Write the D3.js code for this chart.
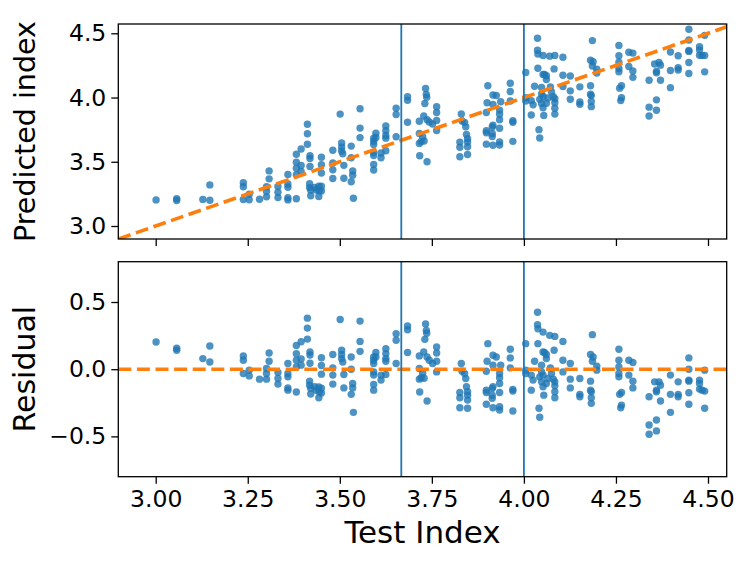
<!DOCTYPE html>
<html>
<head>
<meta charset="utf-8">
<script src="https://cdn.jsdelivr.net/npm/d3@7"></script>
<style>
  body { margin: 0; background: #fff; }
  svg { display: block; }
  text { font-family: "DejaVu Sans", sans-serif; fill: #000; }
</style>
</head>
<body>
<svg id="chart"></svg>
<script>
var width = 747;
var height = 561;
var left = 118.3, right = 726.7;
var topBox = {top: 24, bottom: 239};
var botBox = {top: 261.7, bottom: 476.7};

// test index of every sample (x of both panels)
var testIndex = [
  3.001, 3.057, 3.057, 3.147, 3.128, 3.147,
  3.238, 3.238, 3.238, 3.254, 3.254, 3.282, 3.301, 3.301, 3.301, 3.308, 3.308, 3.332, 3.332, 3.332,
  3.359, 3.359, 3.359, 3.359, 3.359, 3.382, 3.382, 3.382, 3.382, 3.382, 3.395, 3.395, 3.395,
  3.412, 3.412, 3.412, 3.419, 3.419, 3.419, 3.418, 3.418, 3.421, 3.421, 3.432, 3.436, 3.443, 3.444, 3.443,
  3.450, 3.450, 3.450, 3.450, 3.450,
  3.481, 3.481, 3.481, 3.481, 3.501, 3.505, 3.505, 3.505, 3.508, 3.511, 3.511, 3.531, 3.531, 3.535, 3.535,
  3.531, 3.537, 3.555, 3.555, 3.555,
  3.592, 3.592, 3.592, 3.592, 3.592, 3.592, 3.592, 3.598, 3.598, 3.612, 3.612, 3.625, 3.625, 3.625, 3.625,
  3.625, 3.653, 3.653, 3.653,
  3.684, 3.684, 3.684, 3.716, 3.716, 3.716, 3.717, 3.721, 3.729, 3.725, 3.733, 3.735, 3.731, 3.736, 3.728,
  3.737, 3.743, 3.752, 3.737, 3.763, 3.763, 3.763, 3.763,
  3.830, 3.832, 3.826, 3.826, 3.826, 3.839, 3.842, 3.844, 3.847, 3.847, 3.847, 3.847,
  3.902, 3.900, 3.898, 3.898, 3.898, 3.898, 3.916, 3.925, 3.916, 3.916, 3.914, 3.914, 3.914, 3.916, 3.937,
  3.934, 3.934, 3.934, 3.934, 3.934, 3.934, 3.963, 3.963, 3.963, 3.970, 3.970, 3.970,
  4.005, 4.005, 4.005, 4.020, 4.025, 4.020, 4.029, 4.037, 4.037, 4.038, 4.038, 4.041, 4.043, 4.052, 4.052,
  4.056, 4.061, 4.048, 4.048, 4.052, 4.043, 4.048, 4.052, 4.054, 4.061, 4.065, 4.061, 4.070, 4.084, 4.082,
  4.072, 4.075, 4.080, 4.084, 4.084, 4.084, 4.084,
  4.106, 4.106, 4.106, 4.126, 4.126, 4.126, 4.152, 4.152, 4.152, 4.186, 4.181, 4.188, 4.186, 4.198, 4.198,
  4.181, 4.181, 4.183, 4.183, 4.183, 4.258, 4.258, 4.258, 4.258, 4.258, 4.260, 4.265, 4.265, 4.263, 4.285,
  4.296, 4.285, 4.296, 4.296,
  4.340, 4.340, 4.340, 4.355, 4.360, 4.360, 4.367, 4.371, 4.371, 4.360, 4.360, 4.398, 4.398, 4.398, 4.419,
  4.419, 4.419, 4.448, 4.448, 4.448, 4.448, 4.448, 4.448, 4.477, 4.477, 4.477, 4.484, 4.491, 4.491, 4.491
];

// residual (predicted - test) of every sample, same order
var residual = [
  0.202, 0.156, 0.141, 0.173, 0.079, 0.054,
  0.099, 0.067, -0.032, -0.007, -0.050, -0.074, 0.005, -0.032, -0.074, 0.121, 0.059, -0.024, -0.069, -0.111,
  0.042, -0.032, -0.057, -0.139, -0.156, 0.176, 0.115, 0.067, 0.017, -0.170, 0.204, 0.076, 0.030,
  0.380, 0.306, 0.224, 0.128, 0.106, 0.044, -0.089, -0.119, -0.143, -0.185, -0.131, -0.156, -0.133, -0.170, -0.213,
  0.085, 0.027, -0.037, -0.141, -0.178,
  0.109, 0.010, -0.044, -0.111, 0.370, 0.141, 0.109, 0.079, 0.054, -0.039, -0.139, 0.091, 0.000, -0.106, -0.139,
  -0.187, -0.321, 0.358, 0.207, 0.133,
  0.091, 0.067, 0.042, -0.020, -0.044, -0.113, -0.156, 0.124, 0.091, -0.044, -0.081, 0.153, 0.116, 0.079, 0.059,
  -0.039, 0.264, 0.215, 0.042,
  0.322, 0.294, 0.124, 0.099, 0.005, -0.074, -0.170, -0.063, -0.067, -0.030, 0.337, 0.289, 0.222, 0.267, 0.128,
  0.091, 0.067, 0.042, -0.237, 0.165, 0.121, 0.059, -0.020,
  0.042, -0.015, -0.173, -0.213, -0.287, -0.032, -0.069, -0.131, -0.168, -0.193, -0.230, -0.291,
  0.190, 0.059, -0.015, -0.156, -0.173, -0.261, 0.104, 0.091, 0.030, -0.131, -0.143, -0.193, -0.217, -0.287, 0.030,
  -0.032, -0.064, -0.106, -0.173, -0.279, -0.304, 0.148, 0.084, 0.010, -0.150, -0.163, -0.311,
  0.190, -0.007, -0.032, -0.044, -0.081, -0.156, 0.059, 0.424, 0.331, 0.301, 0.190, -0.291, -0.358, 0.276, 0.128,
  0.124, 0.109, 0.030, -0.020, -0.044, -0.057, -0.094, -0.131, -0.193, 0.079, -0.069, -0.106, 0.252, 0.244, 0.141,
  0.010, -0.032, -0.074, -0.094, -0.124, -0.168, -0.213,
  0.207, 0.067, -0.020, 0.042, -0.074, -0.139, -0.069, -0.187, -0.205, 0.257, 0.109, 0.091, 0.059, 0.022, -0.007,
  -0.089, -0.156, -0.168, -0.213, -0.254, 0.148, 0.067, 0.017, -0.032, -0.057, -0.187, -0.173, -0.267, -0.287, 0.067,
  0.050, -0.044, -0.089, -0.139,
  -0.205, -0.415, -0.484, -0.094, -0.156, -0.168, -0.094, -0.119, -0.237, -0.378, -0.459, -0.044, -0.187, -0.321, -0.094,
  -0.187, -0.205, 0.084, 0.000, -0.081, -0.089, -0.175, -0.261, -0.081, -0.106, -0.148, -0.156, -0.007, -0.163, -0.291
];

var cutoffs = [3.667, 4.0];
var xTicks = [3.0, 3.25, 3.5, 3.75, 4.0, 4.25, 4.5];
var predTicks = [3.0, 3.5, 4.0, 4.5];
var residTicks = [-0.5, 0.0, 0.5];

var points = testIndex.map(function(t, i) {
  return {test: t, res: residual[i], pred: t + residual[i]};
});

var svg = d3.select("#chart").attr("width", width).attr("height", height);

var x = d3.scaleLinear().domain([2.8984, 4.5508]).range([left, right]);
var yPred = d3.scaleLinear().domain([2.8988, 4.5724]).range([topBox.bottom, topBox.top]);
var yRes = d3.scaleLinear().domain([-0.8, 0.8]).range([botBox.bottom, botBox.top]);

function panel(name, box, yScale, yTicks, yFmt, yKey, refLine, showXLabels) {
  var g = svg.append("g").attr("class", name);

  g.append("clipPath").attr("id", "clip-" + name)
    .append("rect")
    .attr("x", left).attr("y", box.top)
    .attr("width", right - left).attr("height", box.bottom - box.top);

  var plot = g.append("g").attr("clip-path", "url(#clip-" + name + ")");

  plot.selectAll("circle")
    .data(points)
    .enter()
    .append("circle")
    .attr("cx", function(d) { return x(d.test); })
    .attr("cy", function(d) { return yScale(d[yKey]); })
    .attr("r", 3.7)
    .style("fill", "#1f77b4")
    .style("fill-opacity", 0.8);

  plot.append("path")
    .datum(refLine)
    .attr("d", d3.line()
      .x(function(d) { return x(d[0]); })
      .y(function(d) { return yScale(d[1]); }))
    .style("fill", "none")
    .style("stroke", "#ff7f0e")
    .style("stroke-width", 3.6)
    .style("stroke-dasharray", "13,5.6");

  plot.selectAll("line.cut")
    .data(cutoffs)
    .enter()
    .append("line")
    .attr("class", "cut")
    .attr("x1", function(d) { return x(d); })
    .attr("x2", function(d) { return x(d); })
    .attr("y1", box.top)
    .attr("y2", box.bottom)
    .style("stroke", "#1f77b4")
    .style("stroke-width", 1.8);

  var xAxis = g.append("g")
    .attr("transform", "translate(0," + box.bottom + ")")
    .call(d3.axisBottom(x).tickValues(xTicks).tickSize(7).tickPadding(7)
      .tickFormat(showXLabels ? d3.format(".2f") : ""));

  var yAxis = g.append("g")
    .attr("transform", "translate(" + left + ",0)")
    .call(d3.axisLeft(yScale).tickValues(yTicks).tickSize(7).tickPadding(5)
      .tickFormat(d3.format(yFmt)));

  [xAxis, yAxis].forEach(function(a) {
    a.select(".domain").remove();
    a.selectAll(".tick line").style("stroke", "#000").style("stroke-width", 1.3);
    a.selectAll(".tick text").style("font-size", "23.5px").style("font-family", "DejaVu Sans");
  });

  g.append("rect")
    .attr("x", left).attr("y", box.top)
    .attr("width", right - left).attr("height", box.bottom - box.top)
    .style("fill", "none")
    .style("stroke", "#000")
    .style("stroke-width", 1.3);

  return g;
}

var xr = x.domain();
panel("top", topBox, yPred, predTicks, ".1f", "pred", [[xr[0], xr[0]], [xr[1], xr[1]]], false);
panel("bottom", botBox, yRes, residTicks, ".1f", "res", [[xr[0], 0], [xr[1], 0]], true);

svg.append("text")
  .attr("transform", "translate(35," + (topBox.top + topBox.bottom) / 2 + ") rotate(-90)")
  .attr("text-anchor", "middle")
  .style("font-size", "28.5px")
  .text("Predicted index");

svg.append("text")
  .attr("transform", "translate(35," + (botBox.top + botBox.bottom) / 2 + ") rotate(-90)")
  .attr("text-anchor", "middle")
  .style("font-size", "30px")
  .text("Residual");

svg.append("text")
  .attr("x", (left + right) / 2)
  .attr("y", 542.7)
  .attr("text-anchor", "middle")
  .style("font-size", "31px")
  .text("Test Index");
</script>
</body>
</html>
